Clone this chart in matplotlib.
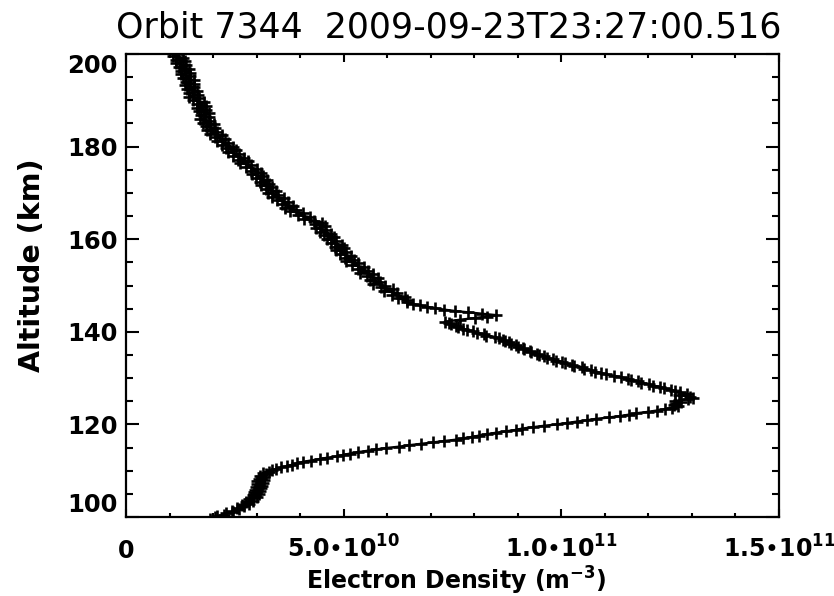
import matplotlib

matplotlib.use("Agg")
import matplotlib.pyplot as plt
import numpy as np
from matplotlib.ticker import MultipleLocator

plt.rcParams["font.family"] = ["DejaVu Sans"]
plt.rcParams["mathtext.fontset"] = "dejavusans"
plt.rcParams["mathtext.default"] = "bf"

TITLE = "Orbit 7344  2009-09-23T23:27:00.516"

# electron density in units of 1e10 m^-3, altitude in km
# bottomside layer, below the steep rise
LOW_ALT = [
    99.6, 99.9, 100.2, 100.5, 100.8, 101.1, 101.4, 101.7, 102.0, 102.3,
    102.6, 102.9, 103.2, 103.5, 103.8, 104.1, 104.4, 104.7, 105.0, 105.3,
    105.6, 105.9, 106.2, 106.5, 106.8, 107.1, 107.4, 107.7, 108.0, 108.3,
    108.6, 108.9, 109.2, 109.5, 109.8,
]
LOW_NE = [
    1.93, 2.04, 2.10, 2.26, 2.30, 2.45, 2.44, 2.60, 2.55, 2.72,
    2.66, 2.83, 2.76, 2.92, 2.82, 2.88, 3.00, 2.92, 3.05, 2.95,
    3.08, 2.97, 3.10, 2.98, 3.12, 3.00, 3.15, 3.02, 3.16, 3.05,
    3.18, 3.08, 3.22, 3.15, 3.28,
]

# steep rise up to the E-region peak
RISE_ALT = [
    110.1, 110.4, 110.7, 111.0, 111.3, 111.6, 111.9, 112.2, 112.5, 112.8,
    113.1, 113.4, 113.7, 114.0, 114.3, 114.6, 114.9, 115.2, 115.5, 115.8,
    116.1, 116.4, 116.7, 117.0, 117.3, 117.6, 117.9, 118.2, 118.5, 118.8,
    119.1, 119.4, 119.7, 120.0, 120.3, 120.6, 120.9, 121.2, 121.5, 121.8,
    122.1, 122.4, 122.7, 123.0, 123.3, 123.6, 123.9, 124.2, 124.5, 124.8,
    125.1, 125.4, 125.7, 126.0, 126.3, 126.6,
]
RISE_NE = [
    3.35, 3.45, 3.56, 3.70, 3.82, 3.93, 4.06, 4.25, 4.45, 4.62,
    4.85, 4.98, 5.15, 5.32, 5.55, 5.75, 5.98, 6.28, 6.50, 6.78,
    7.05, 7.30, 7.58, 7.75, 7.95, 8.12, 8.30, 8.50, 8.72, 8.95,
    9.10, 9.35, 9.60, 9.90, 10.12, 10.35, 10.60, 10.80, 11.10, 11.35,
    11.55, 11.72, 11.98, 12.20, 12.38, 12.55, 12.68, 12.58, 12.62, 12.75,
    12.62, 12.90, 13.02, 12.95, 12.70, 12.88,
]

# decay above the peak, to the small kink near 142 km
FALL_ALT = [
    126.9, 127.2, 127.5, 127.8, 128.1, 128.4, 128.7, 129.0, 129.3, 129.6,
    129.9, 130.2, 130.5, 130.8, 131.1, 131.4, 131.7, 132.0, 132.3, 132.6,
    132.9, 133.2, 133.5, 133.8, 134.1, 134.4, 134.7, 135.0, 135.3, 135.6,
    135.9, 136.2, 136.5, 136.8, 137.1, 137.4, 137.7, 138.0, 138.3, 138.6,
    138.9, 139.2, 139.5, 139.8, 140.1, 140.4, 140.7, 141.0, 141.3, 141.6,
    141.9, 142.2,
]
FALL_NE = [
    12.72, 12.60, 12.52, 12.36, 12.27, 12.10, 12.02, 11.83, 11.77, 11.60,
    11.52, 11.36, 11.22, 11.03, 10.92, 10.78, 10.67, 10.53, 10.47, 10.30,
    10.24, 10.08, 10.02, 9.88, 9.80, 9.66, 9.60, 9.48, 9.44, 9.31,
    9.27, 9.15, 9.12, 9.00, 8.95, 8.84, 8.80, 8.70, 8.67, 8.56,
    8.47, 8.28, 8.22, 8.06, 7.97, 7.83, 7.74, 7.63, 7.57, 7.46,
    7.42, 7.32,
]

# the excursion to the right near 143 km
SPIKE_ALT = [142.6, 143.0, 143.3, 143.6, 143.9, 144.2, 144.5, 144.8, 145.1,
             145.4, 145.7, 146.0, 146.4]
SPIKE_NE = [7.68, 8.02, 8.30, 8.50, 8.18, 7.85, 7.55, 7.30, 7.10,
            6.92, 6.76, 6.60, 6.45]

# topside, noisy
TOP_ALT = [
    146.8, 147.2, 147.6, 148.0, 148.4, 148.8, 149.2, 149.6, 150.0, 150.4,
    150.8, 151.2, 151.6, 152.0, 152.4, 152.8, 153.2, 153.6, 154.0, 154.4,
    154.8, 155.2, 155.6, 156.0, 156.4, 156.8, 157.2, 157.6, 158.0, 158.4,
    158.8, 159.2, 159.6, 160.0, 160.4, 160.8, 161.2, 161.6, 162.0, 162.4,
    162.8, 163.2, 163.6, 164.0, 164.4, 164.8, 165.2, 165.6, 166.0, 166.4,
    166.8, 167.2, 167.6, 168.0, 168.4, 168.8, 169.2, 169.6, 170.0, 170.4,
    170.8, 171.2, 171.6, 172.0, 172.4, 172.8, 173.2, 173.6, 174.0, 174.4,
    174.8, 175.2, 175.6, 176.0, 176.4, 176.8, 177.2, 177.6, 178.0, 178.4,
    178.8, 179.2, 179.6, 180.0, 180.4, 180.8, 181.2, 181.6, 182.0, 182.4,
    182.8, 183.2, 183.6, 184.0, 184.4, 184.8, 185.2, 185.6, 186.0, 186.4,
    186.8, 187.2, 187.6, 188.0, 188.4, 188.8, 189.2, 189.6, 190.0, 190.4,
    190.8, 191.2, 191.6, 192.0, 192.4, 192.8, 193.2, 193.6, 194.0, 194.4,
    194.8, 195.2, 195.6, 196.0, 196.4, 196.8, 197.2, 197.6, 198.0, 198.4,
    198.8, 199.2, 199.6, 200.0, 200.4,
]
TOP_NE = [
    6.45, 6.25, 6.40, 6.12, 6.23, 5.93, 6.13, 5.85, 5.95, 5.68,
    5.83, 5.60, 5.79, 5.54, 5.67, 5.37, 5.55, 5.32, 5.47, 5.19,
    5.32, 5.06, 5.23, 5.02, 5.16, 4.91, 5.06, 4.82, 5.01, 4.79,
    4.96, 4.70, 4.83, 4.61, 4.78, 4.55, 4.72, 4.46, 4.60, 4.36,
    4.58, 4.34, 4.51, 4.33, 4.08, 4.22, 3.94, 4.07, 3.77, 3.90,
    3.65, 3.83, 3.59, 3.73, 3.46, 3.64, 3.36, 3.49, 3.27, 3.45,
    3.21, 3.35, 3.10, 3.29, 3.08, 3.24, 2.99, 3.14, 2.90, 3.09,
    2.87, 3.02, 2.75, 2.88, 2.63, 2.80, 2.57, 2.72, 2.46, 2.60,
    2.35, 2.53, 2.30, 2.46, 2.20, 2.34, 2.10, 2.27, 2.05, 2.20,
    1.94, 2.09, 1.86, 2.05, 1.84, 2.01, 1.76, 1.92, 1.71, 1.91,
    1.72, 1.91, 1.67, 1.84, 1.63, 1.83, 1.63, 1.79, 1.54, 1.68,
    1.45, 1.65, 1.45, 1.64, 1.40, 1.57, 1.36, 1.56, 1.37, 1.56,
    1.32, 1.48, 1.26, 1.47, 1.27, 1.45, 1.22, 1.38, 1.16, 1.35,
    1.14, 1.31, 1.07, 1.20, 1.08,
]

X_TICKS = [0, 5e10, 1e11, 1.5e11]
X_TICK_LABELS = ["0", "5.0•10$^{10}$", "1.0•10$^{11}$", "1.5•10$^{11}$"]
Y_TICKS = [100, 120, 140, 160, 180, 200]


def main() -> None:
    alt = np.concatenate([LOW_ALT, RISE_ALT, FALL_ALT, SPIKE_ALT, TOP_ALT])
    ne = np.concatenate([LOW_NE, RISE_NE, FALL_NE, SPIKE_NE, TOP_NE]) * 1e10

    fig = plt.figure(figsize=(8.34, 5.96), dpi=100)
    ax = fig.add_axes([126 / 834, 79 / 596, 653 / 834, 463 / 596])

    ax.plot(ne, alt, color="black", linewidth=1.7, marker="+",
            markersize=8.5, markeredgewidth=1.9)

    ax.set_xlim(0, 1.5e11)
    ax.set_ylim(100, 200)
    ax.set_xticks(X_TICKS)
    ax.set_xticklabels(X_TICK_LABELS)
    ax.xaxis.set_minor_locator(MultipleLocator(1e10))
    ax.set_yticks(Y_TICKS)
    ax.yaxis.set_minor_locator(MultipleLocator(5))

    for spine in ax.spines.values():
        spine.set_linewidth(1.6)

    ax.tick_params(axis="both", which="both", direction="in",
                   top=True, right=True, width=1.5, colors="black")
    ax.tick_params(axis="x", which="major", length=6, pad=29.5,
                   labelsize=17)
    ax.tick_params(axis="x", which="minor", length=3)
    ax.tick_params(axis="y", which="major", length=9.4, pad=5.8,
                   labelsize=17.5)
    ax.tick_params(axis="y", which="minor", length=5)

    for lbl in ax.get_xticklabels():
        lbl.set_fontweight("bold")
        lbl.set_va("baseline")
    ylabels = ax.get_yticklabels()
    for lbl in ylabels:
        lbl.set_fontweight("bold")
    ylabels[0].set_va("bottom")
    ylabels[-1].set_va("top")

    fig.text(32 / 834, 1 - 265 / 596, "Altitude (km)", rotation=90,
             ha="center", va="center", fontsize=20.5, fontweight="bold")
    fig.text(456 / 834, 1 - 590 / 596, "Electron Density (m$^{-3}$)",
             ha="center", va="baseline", fontsize=17, fontweight="bold")
    fig.text(449 / 834, 1 - 37 / 596, TITLE, ha="center", va="baseline",
             fontsize=25)

    fig.savefig("out.png", dpi=100)


if __name__ == "__main__":
    main()
